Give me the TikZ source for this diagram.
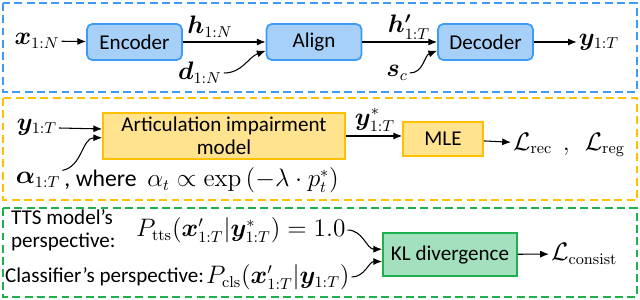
\documentclass[tikz,border=0pt]{standalone}
\usepackage{amsmath}
\usepackage{bm}
\usepackage[no-math]{fontspec}
\setmainfont{Carlito}
\usetikzlibrary{arrows.meta,positioning}

\definecolor{blueline}{HTML}{3D9BF5}
\definecolor{bluefill}{HTML}{A6D0F7}
\definecolor{orangeline}{HTML}{FFC000}
\definecolor{orangefill}{HTML}{FFE38F}
\definecolor{greenline}{HTML}{1FB04E}
\definecolor{greenfill}{HTML}{A2E0BE}

\begin{document}
\begin{tikzpicture}[
    x=0.02cm, y=-0.02cm,
    box/.style={draw, rectangle, line width=1pt, inner sep=1pt, align=center, font=\fontsize{12}{13}\selectfont},
    box-blue/.style={box, rounded corners=3pt, fill=bluefill, draw=blueline, minimum width=1.9cm, minimum height=0.72cm},
    box-orange/.style={box, fill=orangefill, draw=orangeline},
    box-green/.style={box, fill=greenfill, draw=greenline},
    frame/.style={line width=1.1pt, dash pattern=on 4.5pt off 2.5pt},
    arrow/.style={-{Latex[length=5pt,width=4pt]}, semithick},
    math/.style={inner sep=1pt, font=\fontsize{13.5}{15}\selectfont},
    label/.style={inner sep=1pt, align=left, font=\fontsize{12}{13}\selectfont}
]
\useasboundingbox (0,0) rectangle (640,300);

% --- Frames ---
\draw[frame, draw=blueline] (3,3) rectangle (637,92);
\draw[frame, draw=orangeline] (3,98) rectangle (637,200);
\draw[frame, draw=greenline] (3,208) rectangle (637,297);

% --- Synthesis ---
\node[box-blue] (enc) at (134.5,42) {Encoder};
\node[box-blue] (align) at (314,42) {Align};
\node[box-blue] (dec) at (485.5,42) {Decoder};

\node[math] (x) at (37,41) {$\bm{x}_{1:N}$};
\node[math] (h) at (210,27) {$\bm{h}_{1:N}$};
\node[math] (d) at (200,73) {$\bm{d}_{1:N}$};
\node[math] (hp) at (409,27) {$\bm{h'}_{1:T}$};
\node[math] (s) at (397,73) {$\bm{s}_c$};
\node[math] (y) at (599,42) {$\bm{y}_{1:T}$};

\draw[arrow] (x) -- (enc);
\draw[arrow] (enc) -- (align);
\draw[arrow] (align) -- (dec);
\draw[arrow] (dec) -- (y);
\draw[arrow] (d.east) to[out=0, in=200] ([yshift=-5pt]align.west);
\draw[arrow] (s.east) to[out=0, in=200] ([yshift=-5pt]dec.west);

% --- Impairment ---
\node[box-orange, minimum width=4.84cm, minimum height=0.92cm] (art) at (224,136) {Articulation impairment\\model};
\node[box-orange, minimum width=1.6cm, minimum height=0.68cm] (mle) at (443,139) {MLE};

\node[math] (yin) at (37,127) {$\bm{y}_{1:T}$};
\node[math] (alpha) at (38,180) {$\bm{\alpha}_{1:T}$};
\node[math, anchor=west] (where) at (alpha.east) {, where\ \ $\alpha_t \propto \exp\left(-\lambda\cdot p_t^*\right)$};
\node[math] (ystar) at (375,120) {$\bm{y}^*_{1:T}$};
\node[math, anchor=west] (rec) at (511,145) {$\mathcal{L}_{\mathrm{rec}}\ \ ,\ \ \mathcal{L}_{\mathrm{reg}}$};

\draw[arrow] (yin.east |- 0,128) -- ([yshift=4pt]art.west);
\draw[arrow] (alpha.north east) to[out=10, in=180] ([yshift=-1pt]art.west);
\draw[arrow] (art.east) -- (art.east -| mle.west);
\draw[arrow] (mle) -- (rec);

% --- Consistency ---
\node[box-green, minimum width=2.68cm, minimum height=0.86cm] (kl) at (450,254.5) {KL divergence};

\node[label, anchor=west] (tts) at (9,230) {TTS model's\\perspective:};
\node[math, anchor=west] (ptts) at (134,230) {$P_{\mathrm{tts}}(\bm{x}'_{1:T}|\bm{y}^*_{1:T}) = 1.0$};
\node[label, anchor=west] (cls) at (3,277) {Classifier's perspective:};
\node[math, anchor=west] (pcls) at (204,277) {$P_{\mathrm{cls}}(\bm{x}'_{1:T}|\bm{y}_{1:T})$};
\node[math, anchor=west] (cons) at (549,254) {$\mathcal{L}_{\mathrm{consist}}$};

\draw[arrow] (ptts.east) to[out=0, in=180] ([yshift=3pt]kl.west);
\draw[arrow] (pcls.east) to[out=0, in=180] ([yshift=-4pt]kl.west);
\draw[arrow] (kl) -- (cons);

\end{tikzpicture}
\end{document}
